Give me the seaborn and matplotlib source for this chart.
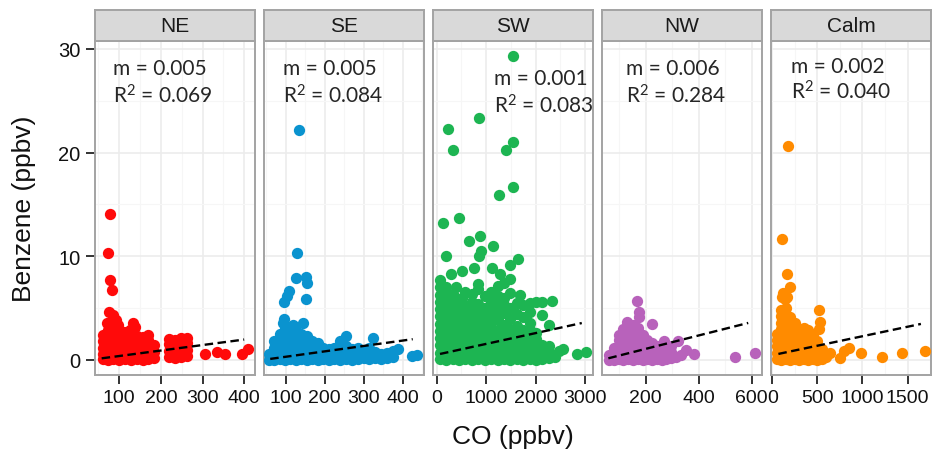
import matplotlib
matplotlib.use("Agg")
import matplotlib.pyplot as plt
import seaborn as sns
import numpy as np
import pandas as pd
from matplotlib.ticker import FixedLocator, MultipleLocator

sns.set_theme(style="white")
plt.rcParams['font.family'] = ['Liberation Sans', 'DejaVu Sans']
plt.rcParams['mathtext.fontset'] = 'custom'
plt.rcParams['mathtext.rm'] = 'Lato'
plt.rcParams['mathtext.it'] = 'Lato'

# ---------------- data ----------------
directions = ["NE", "SE", "SW", "NW", "Calm"]
point_colors = ["#ff0a0a", "#0a93cf", "#1db552", "#b862bb", "#ff8b00"]
slope_labels = ["m = 0.005", "m = 0.005", "m = 0.001", "m = 0.006", "m = 0.002"]
r2_labels = ["R$^{2}$ = 0.069", "R$^{2}$ = 0.084", "R$^{2}$ = 0.083",
             "R$^{2}$ = 0.284", "R$^{2}$ = 0.040"]
fit_slope = [0.0053, 0.0052, 0.00104, 0.00646, 0.00183]
fit_intercept = [-0.15, -0.21, 0.51, -0.22, 0.46]
fit_start = [58, 60, 67, 59, 67]
fit_end = [400, 426, 2935, 587, 1648]
x_ticks = [[100, 200, 300, 400], [100, 200, 300, 400], [0, 1000, 2000, 3000],
           [200, 400, 600], [0, 500, 1000, 1500]]
y_ticks = [0, 10, 20, 30]

ne_points = [(78, 14.1), (72, 10.3), (77, 7.7), (82, 6.75),
             (75, 4.6), (84, 4.3), (92, 3.9), (70, 3.6), (98, 3.4), (80, 3.1),
             (132, 3.6), (138, 3.2), (126, 2.9), (112, 2.7),
             (60, 0.1), (60, 0.6), (60, 1.2), (60, 1.8), (60, 2.4),
             (72, 0.0), (72, 0.5), (72, 1.1), (72, 1.7), (72, 2.3), (72, 2.9),
             (86, 0.1), (86, 0.7), (86, 1.3), (86, 1.9), (86, 2.5),
             (100, 0.0), (100, 0.6), (100, 1.2), (100, 1.8), (100, 2.4),
             (114, 0.1), (114, 0.7), (114, 1.3), (114, 1.9),
             (128, 0.0), (128, 0.6), (128, 1.2), (128, 1.8), (128, 2.4),
             (142, 0.1), (142, 0.7), (142, 1.3), (142, 1.9), (142, 2.3),
             (156, 0.0), (156, 0.6), (156, 1.2), (156, 1.8), (156, 2.2),
             (170, 0.1), (170, 0.7), (170, 1.3), (170, 1.9), (170, 2.4),
             (183, 0.2), (183, 0.8), (183, 1.4),
             (220, 0.3), (220, 0.9), (220, 1.5), (220, 2.0),
             (234, 0.2), (234, 0.8), (234, 1.4), (234, 1.9),
             (248, 0.3), (248, 0.9), (248, 1.5), (248, 2.1),
             (262, 0.4), (262, 1.0), (262, 1.6), (262, 2.1),
             (306, 0.6), (334, 0.8), (354, 0.6), (394, 0.6), (410, 1.05)]

se_points = [(135, 22.2), (130, 10.3), (126, 7.9), (151, 8.0), (155, 7.4), (153, 5.9),
             (109, 6.7), (103, 6.2), (96, 5.6), (96, 3.95), (94, 3.6), (144, 3.6), (118, 3.4),
             (58, 0.0), (58, 0.6),
             (70, 0.0), (70, 0.6), (70, 1.2), (70, 1.8),
             (84, 0.1), (84, 0.7), (84, 1.3), (84, 1.9), (84, 2.5),
             (98, 0.0), (98, 0.6), (98, 1.2), (98, 1.8), (98, 2.4), (98, 3.0),
             (112, 0.1), (112, 0.7), (112, 1.3), (112, 1.9), (112, 2.5), (112, 3.0),
             (126, 0.0), (126, 0.6), (126, 1.2), (126, 1.8), (126, 2.4), (126, 2.9),
             (140, 0.1), (140, 0.7), (140, 1.3), (140, 1.9), (140, 2.5),
             (154, 0.0), (154, 0.6), (154, 1.2), (154, 1.8), (154, 2.3),
             (168, 0.1), (168, 0.7), (168, 1.3), (168, 1.8),
             (182, 0.0), (182, 0.6), (182, 1.2), (182, 1.6),
             (196, 0.1), (196, 0.7), (196, 1.2),
             (210, 0.0), (210, 0.6), (210, 1.1),
             (225, 0.1), (225, 0.7), (225, 1.2),
             (240, 0.0), (240, 0.6), (240, 1.2), (240, 1.8),
             (255, 0.1), (255, 0.7), (255, 1.3), (255, 2.3),
             (270, 0.0), (270, 0.6), (270, 1.1),
             (285, 0.1), (285, 0.7), (285, 1.2),
             (300, 0.2), (300, 0.8),
             (315, 0.1), (315, 0.7), (315, 1.2), (325, 2.1),
             (330, 0.2), (330, 0.8), (345, 0.1), (345, 0.6),
             (360, 0.2), (360, 0.7), (375, 0.3), (375, 0.9),
             (387, 1.1), (423, 0.35), (436, 0.5)]

sw_points = [(1551, 29.3), (856, 23.3), (235, 22.3), (324, 20.3), (1403, 20.3), (1551, 21.0),
             (1267, 15.9), (1538, 16.7), (134, 13.2), (458, 13.7), (654, 11.45), (877, 12.0),
             (1146, 11.0), (891, 10.5), (856, 10.0), (188, 10.0), (1640, 9.7), (506, 8.55),
             (755, 8.9), (1113, 8.9), (1484, 9.2), (1281, 8.3), (283, 8.3),
             (60, 0.1), (60, 0.7), (60, 1.4), (60, 2.1), (60, 2.8), (60, 3.5), (60, 4.2),
             (60, 4.9), (60, 5.6), (60, 6.3), (60, 7.0), (60, 7.7),
             (190, 0.0), (190, 0.7), (190, 1.4), (190, 2.1), (190, 2.8), (190, 3.5),
             (190, 4.2), (190, 4.9), (190, 5.6), (190, 6.3), (190, 7.0),
             (320, 0.1), (320, 0.8), (320, 1.5), (320, 2.2), (320, 2.9), (320, 3.6),
             (320, 4.3), (320, 5.0), (320, 5.7), (320, 6.4),
             (450, 0.0), (450, 0.7), (450, 1.4), (450, 2.1), (450, 2.8), (450, 3.5),
             (450, 4.2), (450, 5.0), (450, 5.9), (390, 7.0),
             (580, 0.1), (580, 0.8), (580, 1.5), (580, 2.2), (580, 3.0), (580, 3.7),
             (580, 4.4), (580, 5.2), (580, 6.6), (520, 6.0),
             (710, 0.0), (710, 0.7), (710, 1.4), (710, 2.1), (710, 2.6), (710, 3.1),
             (710, 3.8), (710, 4.6), (710, 5.6), (710, 6.4),
             (840, 0.1), (840, 0.8), (840, 1.5), (840, 2.3), (840, 3.0), (840, 3.9),
             (840, 4.6), (840, 5.4), (840, 6.8), (840, 7.3),
             (970, 0.0), (970, 0.7), (970, 1.4), (970, 2.2), (970, 2.9), (970, 3.5),
             (970, 4.2), (970, 5.0), (970, 6.2),
             (1100, 0.1), (1100, 0.8), (1100, 1.5), (1100, 2.4), (1100, 3.1), (1100, 4.0),
             (1100, 4.8), (1100, 5.6), (1100, 6.6),
             (1230, 0.0), (1230, 0.7), (1230, 1.4), (1230, 2.1), (1230, 2.9), (1230, 3.9),
             (1230, 4.6), (1230, 5.2), (1230, 6.2), (1230, 7.1),
             (1360, 0.1), (1360, 0.8), (1360, 1.5), (1360, 2.3), (1360, 3.4), (1360, 4.5),
             (1360, 5.3), (1360, 6.0), (1360, 7.4),
             (1490, 0.0), (1490, 0.7), (1490, 1.4), (1490, 2.2), (1490, 3.0), (1490, 4.0),
             (1490, 5.0), (1490, 6.5), (1490, 7.8),
             (1620, 0.1), (1620, 0.8), (1620, 1.5), (1620, 2.4), (1620, 3.3), (1620, 4.4),
             (1620, 5.5), (1680, 6.3),
             (1750, 0.0), (1750, 0.7), (1750, 1.4), (1750, 2.1), (1750, 2.9), (1750, 4.1),
             (1750, 5.3),
             (1880, 0.1), (1880, 0.8), (1880, 1.5), (1880, 2.2), (1880, 2.9), (1880, 3.6),
             (1880, 4.6), (1880, 5.5),
             (2010, 0.0), (2010, 0.7), (2010, 1.4), (2010, 2.0), (2010, 2.6), (2010, 5.6),
             (2140, 0.1), (2140, 0.8), (2140, 1.4), (2140, 4.3), (2140, 5.6),
             (2270, 0.2), (2270, 0.8), (2270, 1.3), (2267, 3.4), (2328, 5.7),
             (2400, 0.3), (2480, 0.9), (2551, 1.1), (2834, 0.6), (3022, 0.75)]

nw_points = [(166, 5.65), (175, 4.6), (175, 4.1), (128, 3.7), (223, 3.5),
             (62, 0.0), (62, 0.5),
             (80, 0.0), (80, 0.6), (80, 1.2),
             (98, 0.1), (98, 0.7), (98, 1.3), (98, 1.9), (98, 2.4),
             (116, 0.0), (116, 0.6), (116, 1.2), (116, 1.8), (116, 2.4), (116, 3.0),
             (134, 0.1), (134, 0.7), (134, 1.3), (134, 1.9), (134, 2.5), (134, 3.0),
             (152, 0.0), (152, 0.6), (152, 1.2), (152, 1.8), (152, 2.4), (152, 3.0), (152, 3.4),
             (170, 0.1), (170, 0.7), (170, 1.3), (170, 1.9), (170, 2.5), (170, 3.1),
             (188, 0.0), (188, 0.6), (188, 1.2), (188, 1.8), (188, 2.4),
             (206, 0.1), (206, 0.7), (206, 1.3), (206, 1.9),
             (224, 0.0), (224, 0.6), (224, 1.2), (224, 1.6),
             (242, 0.1), (242, 0.7), (242, 1.3),
             (260, 0.0), (260, 0.6), (260, 1.1), (270, 1.8),
             (278, 0.1), (278, 0.7),
             (296, 0.2), (296, 0.8), (296, 1.3), (314, 0.3), (321, 1.85),
             (335, 0.5), (352, 1.0), (383, 0.58), (537, 0.26), (612, 0.67)]

calm_points = [(179, 20.6), (112, 11.7), (161, 8.3), (198, 7.0), (105, 6.1), (161, 6.05),
               (116, 6.5), (142, 5.9), (513, 4.85), (532, 3.7), (513, 3.0),
               (50, 0.1), (50, 0.7), (50, 1.3), (50, 1.9), (50, 2.5),
               (100, 0.0), (100, 0.6), (100, 1.2), (100, 1.8), (100, 2.4), (100, 3.0),
               (100, 3.6), (100, 4.2), (100, 4.8),
               (150, 0.1), (150, 0.7), (150, 1.3), (150, 1.9), (150, 2.5), (150, 3.1),
               (150, 3.7), (150, 4.3), (150, 5.0),
               (200, 0.0), (200, 0.6), (200, 1.2), (200, 1.8), (200, 2.4), (200, 3.0),
               (200, 3.6), (200, 4.1),
               (250, 0.1), (250, 0.7), (250, 1.3), (250, 1.9), (250, 2.5), (250, 3.1), (250, 3.6),
               (300, 0.0), (300, 0.6), (300, 1.2), (300, 1.8), (300, 2.4), (300, 3.0),
               (350, 0.1), (350, 0.7), (350, 1.3), (350, 1.9), (350, 2.5), (350, 3.1),
               (400, 0.0), (400, 0.6), (400, 1.2), (400, 1.8), (400, 2.4), (400, 2.9),
               (450, 0.1), (450, 0.7), (450, 1.3), (450, 1.9), (450, 2.4),
               (500, 0.0), (500, 0.6), (500, 1.2), (500, 1.8),
               (550, 0.1), (550, 0.6), (550, 1.1), (590, 0.3),
               (644, 0.68), (748, 0.2), (792, 0.9), (848, 1.13), (979, 0.68),
               (1213, 0.32), (1433, 0.67), (1693, 0.84)]

panel_points = [ne_points, se_points, sw_points, nw_points, calm_points]

# ---------------- layout ----------------
W, H = 934, 452
fig = plt.figure(figsize=(W / 100, H / 100), dpi=100)
fig.patch.set_facecolor("white")

panel_left = [95, 264, 433, 602, 771]
panel_w = 160
panel_top, panel_bot, strip_top = 42, 376, 11
x_limits = [(42, 426), (44, 455), (-75, 3162), (35, 639), (-15, 1760)]
y_limits = (-1.45, 30.77)
text_x = [0.112, 0.117, 0.383, 0.148, 0.125]
text_y1 = [0.92, 0.92, 0.89, 0.92, 0.925]
text_y2 = [0.84, 0.84, 0.81, 0.84, 0.85]
border = "#a3a3a3"
ann_font = dict(family=["Lato", "DejaVu Sans"], fontsize=15, color="#262626",
                va="center", ha="left", zorder=5)

for i, d in enumerate(directions):
    ax = fig.add_axes([panel_left[i] / W, 1 - panel_bot / H, panel_w / W,
                       (panel_bot - panel_top) / H])
    df = pd.DataFrame(panel_points[i], columns=["CO", "Benzene"])
    sns.scatterplot(data=df, x="CO", y="Benzene", color=point_colors[i], s=66,
                    linewidth=0, alpha=1, ax=ax, legend=False, zorder=3)
    xs = np.array([fit_start[i], fit_end[i]], dtype=float)
    fit = pd.DataFrame({"CO": xs, "Benzene": fit_intercept[i] + fit_slope[i] * xs})
    sns.lineplot(data=fit, x="CO", y="Benzene", ax=ax, color="black", lw=1.7,
                 linestyle=(0, (3.6, 1.9)), zorder=4)
    ax.set_xlim(*x_limits[i])
    ax.set_ylim(*y_limits)
    ax.set_facecolor("white")
    ax.xaxis.set_major_locator(FixedLocator(x_ticks[i]))
    step = x_ticks[i][1] - x_ticks[i][0]
    ax.xaxis.set_minor_locator(MultipleLocator(step / 2))
    ax.yaxis.set_major_locator(FixedLocator(y_ticks))
    ax.yaxis.set_minor_locator(MultipleLocator(5))
    ax.set_axisbelow(True)
    ax.grid(which="major", color="#ececec", lw=1.2)
    ax.grid(which="minor", color="#f6f6f6", lw=0.8)
    for sp in ax.spines.values():
        sp.set_color(border)
        sp.set_linewidth(1.4)
    ax.tick_params(which="major", direction="out", length=6.5, width=1.4,
                   color="#333333", labelsize=14, labelcolor="#111111", pad=3.5)
    ax.tick_params(which="minor", length=0)
    ax.tick_params(axis="y", pad=4, labelsize=14.5)
    if i > 0:
        ax.tick_params(axis="y", left=False, labelleft=False)
    else:
        ax.tick_params(axis="y", left=True)
    ax.tick_params(axis="x", bottom=True)
    ax.set_xlabel("")
    ax.set_ylabel("")
    ax.text(text_x[i], text_y1[i], slope_labels[i], transform=ax.transAxes, **ann_font)
    ax.text(text_x[i], text_y2[i], r2_labels[i], transform=ax.transAxes, **ann_font)

    sax = fig.add_axes([panel_left[i] / W, 1 - panel_top / H, panel_w / W,
                        (panel_top - strip_top) / H])
    sax.set_facecolor("#d9d9d9")
    sax.set_xticks([])
    sax.set_yticks([])
    for sp in sax.spines.values():
        sp.set_color(border)
        sp.set_linewidth(1.4)
    sax.text(0.5, 0.5, d, transform=sax.transAxes, ha="center", va="center",
             fontsize=15, color="#1a1a1a")

fig.text(513 / W, 1 - 437 / H, "CO (ppbv)", ha="center", va="center",
         fontsize=19, color="#111111")
fig.text(24 / W, 1 - 209 / H, "Benzene (ppbv)", ha="center", va="center",
         rotation=90, fontsize=19, color="#111111")

fig.savefig("out.png", dpi=100, facecolor="white")
